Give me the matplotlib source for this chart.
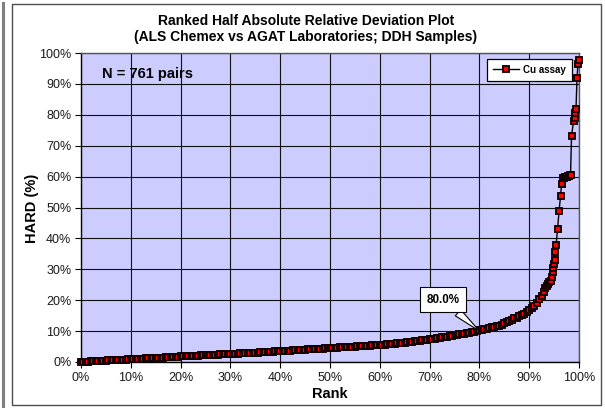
import matplotlib
matplotlib.use("Agg")
import matplotlib.pyplot as plt
from matplotlib.patches import Rectangle
from matplotlib.lines import Line2D

plt.rcParams['font.family'] = ['Liberation Sans', 'DejaVu Sans']

# ---------------- data ----------------
title_lines = ["Ranked Half Absolute Relative Deviation Plot",
               "(ALS Chemex vs AGAT Laboratories; DDH Samples)"]
series_name = "Cu assay"
n_pairs_text = "N = 761 pairs"
annot_text = "80.0%"
annot_rank = 80.0
annot_hard = 10.0

x_ticks = [0, 10, 20, 30, 40, 50, 60, 70, 80, 90, 100]
y_ticks = [0, 10, 20, 30, 40, 50, 60, 70, 80, 90, 100]
x_tick_labels = ["0%", "10%", "20%", "30%", "40%", "50%", "60%", "70%", "80%", "90%", "100%"]
y_tick_labels = ["0%", "10%", "20%", "30%", "40%", "50%", "60%", "70%", "80%", "90%", "100%"]

# main body: rank 0.0 .. 93.0 in 0.5 % steps
rank_body = [
    0.0, 0.5, 1.0, 1.5, 2.0, 2.5, 3.0, 3.5, 4.0, 4.5, 5.0, 5.5, 6.0, 6.5, 7.0, 7.5, 8.0, 8.5, 9.0, 9.5, 10.0,
    10.5, 11.0, 11.5, 12.0, 12.5, 13.0, 13.5, 14.0, 14.5, 15.0, 15.5, 16.0, 16.5, 17.0, 17.5, 18.0, 18.5, 19.0, 19.5, 20.0,
    20.5, 21.0, 21.5, 22.0, 22.5, 23.0, 23.5, 24.0, 24.5, 25.0, 25.5, 26.0, 26.5, 27.0, 27.5, 28.0, 28.5, 29.0, 29.5, 30.0,
    30.5, 31.0, 31.5, 32.0, 32.5, 33.0, 33.5, 34.0, 34.5, 35.0, 35.5, 36.0, 36.5, 37.0, 37.5, 38.0, 38.5, 39.0, 39.5, 40.0,
    40.5, 41.0, 41.5, 42.0, 42.5, 43.0, 43.5, 44.0, 44.5, 45.0, 45.5, 46.0, 46.5, 47.0, 47.5, 48.0, 48.5, 49.0, 49.5, 50.0,
    50.5, 51.0, 51.5, 52.0, 52.5, 53.0, 53.5, 54.0, 54.5, 55.0, 55.5, 56.0, 56.5, 57.0, 57.5, 58.0, 58.5, 59.0, 59.5, 60.0,
    60.5, 61.0, 61.5, 62.0, 62.5, 63.0, 63.5, 64.0, 64.5, 65.0, 65.5, 66.0, 66.5, 67.0, 67.5, 68.0, 68.5, 69.0, 69.5, 70.0,
    70.5, 71.0, 71.5, 72.0, 72.5, 73.0, 73.5, 74.0, 74.5, 75.0, 75.5, 76.0, 76.5, 77.0, 77.5, 78.0, 78.5, 79.0, 79.5, 80.0,
    80.5, 81.0, 81.5, 82.0, 82.5, 83.0, 83.5, 84.0, 84.5, 85.0, 85.5, 86.0, 86.5, 87.0, 87.5, 88.0, 88.5, 89.0, 89.5, 90.0,
    90.5, 91.0, 91.5, 92.0, 92.5, 93.0,
]
hard_body = [
    0.00, 0.04, 0.09, 0.13, 0.18, 0.22, 0.27, 0.31, 0.36, 0.40, 0.45, 0.49, 0.53, 0.57, 0.62, 0.66, 0.70, 0.74, 0.79, 0.84, 0.90,
    0.94, 0.98, 1.02, 1.06, 1.10, 1.14, 1.18, 1.22, 1.26, 1.30, 1.35, 1.40, 1.45, 1.50, 1.55, 1.60, 1.65, 1.70, 1.75, 1.80,
    1.84, 1.88, 1.92, 1.96, 2.00, 2.04, 2.08, 2.12, 2.16, 2.20, 2.24, 2.28, 2.32, 2.36, 2.40, 2.44, 2.48, 2.52, 2.56, 2.60,
    2.64, 2.68, 2.72, 2.76, 2.80, 2.84, 2.88, 2.92, 2.96, 3.00, 3.05, 3.10, 3.15, 3.20, 3.25, 3.30, 3.35, 3.40, 3.45, 3.50,
    3.55, 3.60, 3.65, 3.70, 3.75, 3.80, 3.85, 3.90, 3.95, 4.00, 4.05, 4.10, 4.15, 4.20, 4.25, 4.30, 4.35, 4.40, 4.45, 4.50,
    4.55, 4.60, 4.65, 4.70, 4.75, 4.80, 4.85, 4.90, 4.95, 5.00, 5.05, 5.10, 5.15, 5.20, 5.25, 5.30, 5.35, 5.40, 5.45, 5.50,
    5.58, 5.66, 5.74, 5.82, 5.90, 5.98, 6.06, 6.14, 6.22, 6.30, 6.40, 6.50, 6.60, 6.70, 6.80, 6.90, 7.00, 7.10, 7.20, 7.30,
    7.43, 7.56, 7.69, 7.82, 7.95, 8.08, 8.21, 8.34, 8.47, 8.60, 8.75, 8.90, 9.05, 9.20, 9.35, 9.50, 9.65, 9.80, 9.95, 10.2,
    10.4, 10.6, 10.8, 11.0, 11.2, 11.4, 11.6, 11.8, 12.1, 12.5, 12.9, 13.3, 13.7, 14.1, 14.4, 14.8, 15.2, 15.6, 16.1, 16.8,
    17.4, 18.2, 19.2, 20.5, 21.5, 22.8,
]
# upper tail: individually visible markers
rank_tail = [93.2, 93.5, 93.8, 94.0, 94.3, 94.5, 94.7, 94.8, 95.0, 95.1, 95.2, 95.4, 95.7, 96.0, 96.3, 96.5,
             96.85, 97.0, 97.15, 97.3, 97.45, 97.6, 97.75, 97.9, 98.05, 98.2, 98.3,
             98.5, 98.9, 99.1, 99.25, 99.4, 99.6, 99.8, 100.0]
hard_tail = [24.0, 24.6, 25.2, 25.8, 26.2, 27.5, 29.0, 30.5, 31.7, 33.0, 35.6, 38.0, 43.0, 49.0, 53.7, 57.6,
             59.4, 59.6, 59.8, 59.9, 60.0, 60.0, 60.1, 60.2, 60.3, 60.4, 60.5,
             73.0, 78.0, 79.0, 80.5, 82.0, 92.0, 96.5, 97.7]

rank_pct = rank_body + rank_tail
hard_pct = hard_body + hard_tail

# ---------------- figure ----------------
W, H = 605, 408
fig = plt.figure(figsize=(W / 100, H / 100), dpi=100)
fig.patch.set_facecolor("white")

# outer chart frame and neighbouring sheet edge
fig.add_artist(Rectangle((12 / W, 3 / H), (601 - 12) / W, (404 - 3) / H, transform=fig.transFigure,
                         fill=False, ec="#4d4d4d", lw=1.0))
fig.add_artist(Line2D([2.5 / W, 2.5 / W], [0, 1 - 3 / H], transform=fig.transFigure,
                      color="#808080", lw=2.2))

ax = fig.add_axes([81 / W, (H - 362) / H, (579 - 81) / W, (362 - 53) / H])
ax.set_facecolor("#CCCCFF")
ax.set_xlim(0, 100)
ax.set_ylim(0, 100)
ax.set_xticks(x_ticks)
ax.set_yticks(y_ticks)
ax.set_xticklabels(x_tick_labels)
ax.set_yticklabels(y_tick_labels)
ax.tick_params(axis="both", direction="out", length=4, width=0.8, color="black",
               labelsize=9, labelcolor="#1a1a1a", pad=3)
ax.grid(True, color="#111111", lw=0.8)
ax.set_axisbelow(True)
for s in ["left", "bottom"]:
    ax.spines[s].set_color("black")
    ax.spines[s].set_linewidth(1.0)
for s in ["top", "right"]:
    ax.spines[s].set_color("#555555")
    ax.spines[s].set_linewidth(1.0)

ax.plot(rank_pct, hard_pct, color="black", lw=1.0, marker="s", markersize=4.6,
        markerfacecolor="#FF0000", markeredgecolor="#140000", markeredgewidth=1.35,
        clip_on=False, zorder=3, label=series_name)

leg = ax.legend(loc="upper right", bbox_to_anchor=(0.986, 0.981), frameon=True, fancybox=False,
                prop={"size": 7, "weight": "bold"}, handlelength=2.6, borderpad=0.6,
                handletextpad=0.5, borderaxespad=0, markerscale=0.8)
leg.get_frame().set_edgecolor("black")
leg.get_frame().set_linewidth(0.9)
leg.get_frame().set_facecolor("white")
leg.get_frame().set_alpha(1)

ax.text(0.042, 0.932, n_pairs_text, transform=ax.transAxes, ha="left", va="center",
        fontsize=10.5, fontweight="bold")

ax.annotate(annot_text, xy=(annot_rank, annot_hard), xytext=(72.7, 20.1),
            ha="center", va="center", fontsize=8.4, fontweight="bold", zorder=5,
            bbox=dict(boxstyle="square,pad=0.55", fc="white", ec="black", lw=0.8),
            arrowprops=dict(arrowstyle="wedge,tail_width=0.7,shrink_factor=0.5",
                            fc="white", ec="black", lw=0.8, shrinkA=0, shrinkB=0))

fig.text(306 / W, 1 - 21 / H, title_lines[0], ha="center", va="center", fontsize=10, fontweight="bold")
fig.text(306 / W, 1 - 37 / H, title_lines[1], ha="center", va="center", fontsize=10, fontweight="bold")
fig.text(32 / W, 1 - 208 / H, "HARD (%)", rotation=90, ha="center", va="center",
         fontsize=10.5, fontweight="bold")
fig.text(330 / W, 1 - 394 / H, "Rank", ha="center", va="center", fontsize=10.5, fontweight="bold")

fig.savefig("out.png", dpi=100)
